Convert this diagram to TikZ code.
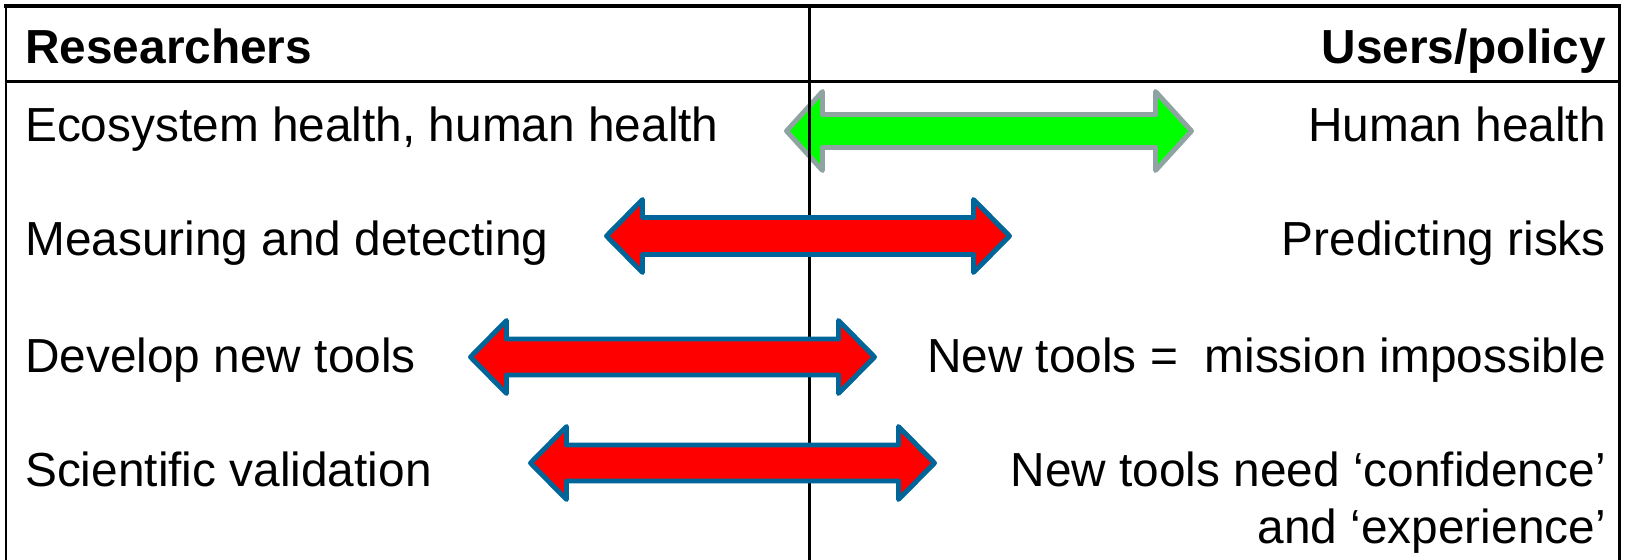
\documentclass[tikz,border=0pt]{standalone}
\usepackage{fontspec}
\setmainfont{Liberation Sans}
\usetikzlibrary{calc}
\definecolor{arrowred}{RGB}{255,0,0}
\definecolor{redEdge}{RGB}{0,102,153}
\definecolor{arrowgreen}{RGB}{0,255,0}
\definecolor{greenEdge}{RGB}{143,163,163}
\newcommand*{\cellfont}{\fontsize{13.6}{16.2}\selectfont}
\newcommand*{\hdLen}{0.36}
% double arrow between two named tips: style, left, right, head half, shaft half
\newcommand{\dblArrow}[5]{%
  \draw[#1] (#2) -- ($(#2)+(\hdLen,-#4)$) -- ($(#2)+(\hdLen,-#5)$)
    -- ($(#3)+(-\hdLen,-#5)$) -- ($(#3)+(-\hdLen,-#4)$) -- (#3)
    -- ($(#3)+(-\hdLen,#4)$) -- ($(#3)+(-\hdLen,#5)$)
    -- ($(#2)+(\hdLen,#5)$) -- ($(#2)+(\hdLen,#4)$) -- cycle;}

\begin{document}
\begin{tikzpicture}[y=-1cm,
    cell/.style={inner sep=0pt, font=\cellfont},
    head/.style={inner sep=0pt, font=\cellfont\bfseries},
    rule/.style={line width=0.7pt},
    redArr/.style={fill=arrowred, draw=redEdge, line width=1.4pt, line join=round},
    greenArr/.style={fill=arrowgreen, draw=greenEdge, line width=1.4pt, line join=round}]
    \useasboundingbox (0,0) rectangle (16.25,5.6);

    \coordinate (G0) at (7.865,1.31);
    \coordinate (G1) at (11.915,1.31);
    \dblArrow{greenArr}{G0}{G1}{0.395}{0.165}

    % table rules
    \coordinate (TL) at (0.06,0.06);
    \coordinate (TR) at (16.195,0.06);
    \coordinate (TM) at (8.095,0.06);
    \draw[line width=1.4pt] ($(TL)+(-0.015,0)$) -- ($(TR)+(0.015,0)$);
    \draw[rule] (TL) -- (TL |- 0,5.6);
    \draw[rule] (TR) -- (TR |- 0,5.6);
    \draw[rule] (TM) -- (TM |- 0,5.6);
    \draw[rule] (0.06,0.815) -- (16.195,0.815);

    \node[head, anchor=base west] (resHead) at (0.245,0.63) {Researchers};
    \node[head, anchor=base east] (usrHead) at (16.065,0.63) {Users/policy};

    \node[cell, anchor=base west] (ecoL) at (0.245,1.41) {Ecosystem health, human health};
    \node[cell, anchor=base east] (ecoR) at (16.065,1.41) {Human health};
    \node[cell, anchor=base west] (measL) at (0.245,2.55) {Measuring and detecting};
    \node[cell, anchor=base east] (measR) at (16.065,2.55) {Predicting risks};
    \node[cell, anchor=base west] (toolL) at (0.245,3.72) {Develop new tools};
    \node[cell, anchor=base east] (toolR) at (16.065,3.72) {New tools =\ \ mission impossible};
    \node[cell, anchor=base west] (valL) at (0.245,4.86) {Scientific validation};
    \node[cell, anchor=base east, align=right] (valR) at (16.065,5.43)
        {New tools need ‘confidence’\\and ‘experience’};

    \coordinate (M0) at (6.065,2.36);
    \coordinate (M1) at (10.095,2.36);
    \dblArrow{redArr}{M0}{M1}{0.365}{0.185}
    \coordinate (D0) at (4.705,3.57);
    \coordinate (D1) at (8.745,3.57);
    \dblArrow{redArr}{D0}{D1}{0.365}{0.18}
    \coordinate (S0) at (5.305,4.63);
    \coordinate (S1) at (9.345,4.63);
    \dblArrow{redArr}{S0}{S1}{0.365}{0.18}
\end{tikzpicture}
\end{document}
